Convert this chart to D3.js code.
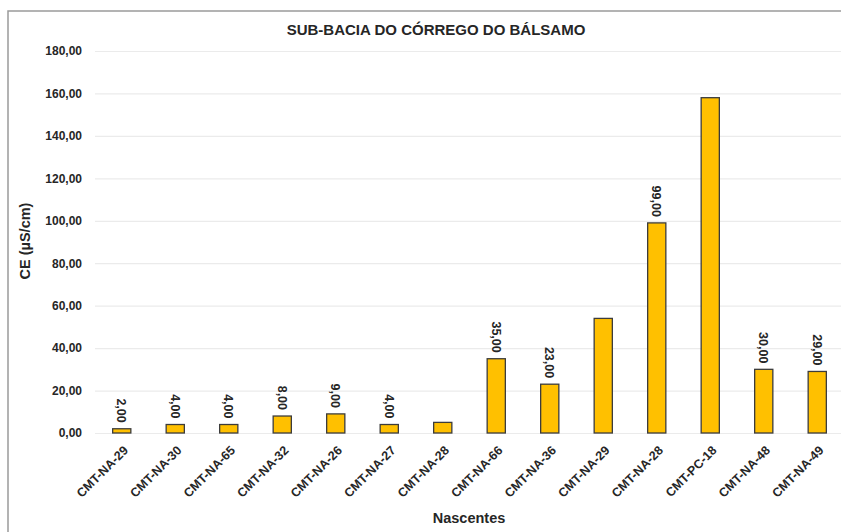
<!DOCTYPE html>
<html>
<head>
<meta charset="utf-8">
<script src="https://cdn.jsdelivr.net/npm/d3@7"></script>
<style>
  html, body { margin: 0; padding: 0; background: #fff; }
  svg { display: block; font-family: "Liberation Sans", Arial, sans-serif; }
</style>
</head>
<body>
<svg id="chart" width="841" height="532"></svg>
<script>
// data
var nascentes = ["CMT-NA-29", "CMT-NA-30", "CMT-NA-65", "CMT-NA-32", "CMT-NA-26", "CMT-NA-27", "CMT-NA-28",
	"CMT-NA-66", "CMT-NA-36", "CMT-NA-29", "CMT-NA-28", "CMT-PC-18", "CMT-NA-48", "CMT-NA-49"];
var ceValues = [2, 4, 4, 8, 9, 4, 5, 35, 23, 54, 99, 158, 30, 29];
var showLabel = [true, true, true, true, true, true, false, true, true, false, true, false, true, true];
var yTicks = [0, 20, 40, 60, 80, 100, 120, 140, 160, 180];

var title = "SUB-BACIA DO CÓRREGO DO BÁLSAMO",
	yTitle = "CE (µS/cm)",
	xTitle = "Nascentes";

var margin = { top: 51, left: 95, bottom: 433, right: 844 },
	textColor = "#262626",
	barFill = "#FFC000",
	barStroke = "#3c3c3c";

var fmt = function(v) { return d3.format(".2f")(v).replace(".", ","); };

var svg = d3.select("#chart");

// outer frame
svg.append("rect")
	.attr("x", 8).attr("y", 11)
	.attr("width", 900).attr("height", 600)
	.attr("fill", "#fff")
	.attr("stroke", "#9a9a9a")
	.attr("stroke-width", 1.5);

var x = d3.scaleBand()
	.domain(d3.range(nascentes.length))
	.range([margin.left, margin.right])
	.paddingInner(0.66)
	.paddingOuter(0.33);

var y = d3.scaleLinear()
	.domain([0, 180])
	.range([margin.bottom, margin.top]);

// gridlines + y tick labels
var yAxis = d3.axisLeft(y)
	.tickValues(yTicks)
	.tickSize(-(margin.right - margin.left))
	.tickPadding(13)
	.tickFormat(fmt);

var gy = svg.append("g")
	.attr("transform", "translate(" + margin.left + ",0)")
	.call(yAxis);
gy.select(".domain").remove();
gy.selectAll(".tick line").attr("stroke", "#ebebeb").attr("stroke-width", 1.2);
gy.selectAll(".tick text")
	.attr("fill", textColor)
	.attr("font-size", "12px")
	.attr("font-weight", "bold");

// x labels, rotated -45
svg.append("g").attr("class", "x-labels")
	.selectAll("text")
	.data(nascentes)
	.enter().append("text")
	.attr("transform", function(d, i) {
		return "translate(" + (x(i) + x.bandwidth() / 2 + 4) + "," + (margin.bottom + 15) + ") rotate(-45)";
	})
	.attr("dy", "0.35em")
	.attr("text-anchor", "end")
	.attr("fill", textColor)
	.attr("font-size", "12.5px")
	.attr("font-weight", "bold")
	.text(function(d) { return d; });

// bars
svg.append("g").selectAll("rect")
	.data(ceValues)
	.enter().append("rect")
	.attr("x", function(d, i) { return x(i); })
	.attr("y", function(d) { return y(d); })
	.attr("width", x.bandwidth())
	.attr("height", function(d) { return y(0) - y(d); })
	.attr("fill", barFill)
	.attr("stroke", barStroke)
	.attr("stroke-width", 1.3);

// value labels (vertical)
svg.append("g").selectAll("text")
	.data(ceValues.map(function(v, i) { return { v: v, i: i }; }).filter(function(d) { return showLabel[d.i]; }))
	.enter().append("text")
	.attr("transform", function(d) {
		return "translate(" + (x(d.i) + x.bandwidth() / 2) + "," + (y(d.v) - 6) + ") rotate(90)";
	})
	.attr("text-anchor", "end")
	.attr("dy", "0.35em")
	.attr("fill", textColor)
	.attr("font-size", "12.5px")
	.attr("font-weight", "bold")
	.text(function(d) { return fmt(d.v); });

// titles
svg.append("text")
	.attr("x", 436).attr("y", 35)
	.attr("text-anchor", "middle")
	.attr("fill", textColor)
	.attr("font-size", "15px")
	.attr("font-weight", "bold")
	.text(title);

svg.append("text")
	.attr("transform", "translate(30,241) rotate(-90)")
	.attr("text-anchor", "middle")
	.attr("fill", textColor)
	.attr("font-size", "14.5px")
	.attr("font-weight", "bold")
	.text(yTitle);

svg.append("text")
	.attr("x", 469).attr("y", 523)
	.attr("text-anchor", "middle")
	.attr("fill", textColor)
	.attr("font-size", "14.5px")
	.attr("font-weight", "bold")
	.text(xTitle);
</script>
</body>
</html>
